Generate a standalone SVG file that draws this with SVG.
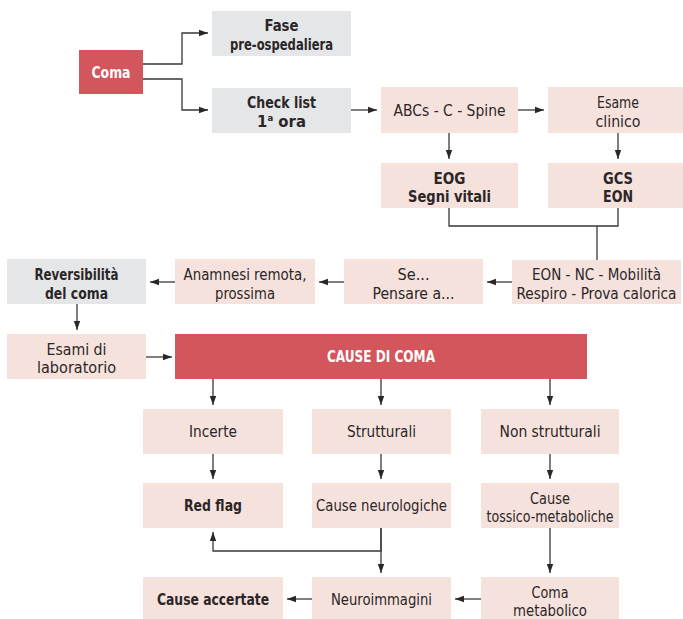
<svg xmlns="http://www.w3.org/2000/svg" width="683" height="619" viewBox="0 0 683 619">
  <style>
    text { font-family: "DejaVu Sans Condensed", "DejaVu Sans", "Liberation Sans", sans-serif; font-stretch: condensed; font-size: 16.5px; fill: #2b2627; text-anchor: middle; }
    .b { font-weight: bold; }
    .w { fill: #ffffff; font-weight: bold; }
    .pink { fill: #f6e2dd; }
    .gray { fill: #e5e6e7; }
    .red { fill: #d2565b; }
    .wire { fill: none; stroke: #3a3637; stroke-width: 1.3; }
    .arrow { marker-end: url(#head); }
  </style>
  <defs>
    <marker id="head" markerUnits="userSpaceOnUse" markerWidth="10" markerHeight="8" refX="9" refY="4" orient="auto">
      <path d="M0,0.8 L9,4 L0,7.2 Z" fill="#2b2627"/>
    </marker>
  </defs>

  <!-- connectors -->
  <g id="connectors">
    <path class="wire arrow" d="M143,64 H182 V33 H208"/>
    <path class="wire arrow" d="M143,79 H182 V110 H208"/>
    <path class="wire arrow" d="M351,110 H377"/>
    <path class="wire arrow" d="M518,110 H544"/>
    <path class="wire arrow" d="M449,133 V159"/>
    <path class="wire arrow" d="M618,133 V159"/>
    <path class="wire" d="M449,208 V226 H618 V208"/>
    <path class="wire" d="M597,226 V260"/>
    <path class="wire arrow" d="M512,282 H487"/>
    <path class="wire arrow" d="M344,282 H319"/>
    <path class="wire arrow" d="M175,282 H150"/>
    <path class="wire arrow" d="M77,304 V330"/>
    <path class="wire arrow" d="M146,357 H172"/>
    <path class="wire arrow" d="M213,379 V405"/>
    <path class="wire arrow" d="M381,379 V405"/>
    <path class="wire arrow" d="M550,379 V405"/>
    <path class="wire arrow" d="M213,454 V479"/>
    <path class="wire arrow" d="M381,454 V479"/>
    <path class="wire arrow" d="M550,454 V479"/>
    <path class="wire arrow" d="M381,528 V551 H213 V532"/>
    <path class="wire arrow" d="M381,528 V573"/>
    <path class="wire arrow" d="M550,528 V573"/>
    <path class="wire arrow" d="M481,599 H455"/>
    <path class="wire arrow" d="M312,599 H287"/>
  </g>

  <!-- nodes -->
  <g id="coma">
    <rect class="red" x="79" y="50" width="64" height="44"/>
    <text class="w" x="111" y="78" textLength="39" lengthAdjust="spacingAndGlyphs">Coma</text>
  </g>
  <g id="fase-pre-ospedaliera">
    <rect class="gray" x="212" y="11" width="139" height="45"/>
    <text class="b" x="281.5" y="31" textLength="34" lengthAdjust="spacingAndGlyphs">Fase</text>
    <text class="b" x="281.5" y="49.5" textLength="103" lengthAdjust="spacingAndGlyphs">pre-ospedaliera</text>
  </g>
  <g id="check-list">
    <rect class="gray" x="212" y="88" width="139" height="45"/>
    <text class="b" x="281.5" y="108" textLength="69" lengthAdjust="spacingAndGlyphs">Check list</text>
    <text class="b" x="281.5" y="127" font-size="15">1<tspan font-size="9.5" dy="-6.5">a</tspan><tspan dy="6.5"> ora</tspan></text>
  </g>
  <g id="abcs">
    <rect class="pink" x="381" y="87" width="137" height="46"/>
    <text x="449.5" y="116" textLength="112" lengthAdjust="spacingAndGlyphs">ABCs - C - Spine</text>
  </g>
  <g id="esame-clinico">
    <rect class="pink" x="548" y="87" width="135" height="46"/>
    <text x="618" y="108" textLength="42" lengthAdjust="spacingAndGlyphs">Esame</text>
    <text x="618" y="127" textLength="45" lengthAdjust="spacingAndGlyphs">clinico</text>
  </g>
  <g id="eog">
    <rect class="pink" x="381" y="163" width="137" height="45"/>
    <text class="b" x="449.5" y="183.5" textLength="32" lengthAdjust="spacingAndGlyphs">EOG</text>
    <text class="b" x="449.5" y="202" textLength="83" lengthAdjust="spacingAndGlyphs">Segni vitali</text>
  </g>
  <g id="gcs">
    <rect class="pink" x="548" y="163" width="135" height="45"/>
    <text class="b" x="618" y="183.5" textLength="30" lengthAdjust="spacingAndGlyphs">GCS</text>
    <text class="b" x="618" y="202" textLength="30" lengthAdjust="spacingAndGlyphs">EON</text>
  </g>
  <g id="reversibilita">
    <rect class="gray" x="7" y="259" width="139" height="45"/>
    <text class="b" x="76.5" y="280" textLength="84" lengthAdjust="spacingAndGlyphs">Reversibilità</text>
    <text class="b" x="76.5" y="298.5" textLength="63" lengthAdjust="spacingAndGlyphs">del coma</text>
  </g>
  <g id="anamnesi">
    <rect class="pink" x="175" y="259" width="140" height="45"/>
    <text x="245" y="280" textLength="123" lengthAdjust="spacingAndGlyphs">Anamnesi remota,</text>
    <text x="245" y="298.5" textLength="60" lengthAdjust="spacingAndGlyphs">prossima</text>
  </g>
  <g id="pensare">
    <rect class="pink" x="344" y="259" width="139" height="45"/>
    <text x="413.5" y="280" textLength="32" lengthAdjust="spacingAndGlyphs">Se...</text>
    <text x="413.5" y="298.5" textLength="82" lengthAdjust="spacingAndGlyphs">Pensare a...</text>
  </g>
  <g id="esame-neurologico">
    <rect class="pink" x="512" y="260" width="169" height="44"/>
    <text x="596.5" y="280" textLength="129" lengthAdjust="spacingAndGlyphs">EON - NC - Mobilità</text>
    <text x="596.5" y="298.5" textLength="160" lengthAdjust="spacingAndGlyphs">Respiro - Prova calorica</text>
  </g>
  <g id="esami-laboratorio">
    <rect class="pink" x="7" y="334" width="139" height="45"/>
    <text x="76.5" y="354.5" textLength="60" lengthAdjust="spacingAndGlyphs">Esami di</text>
    <text x="76.5" y="373" textLength="79" lengthAdjust="spacingAndGlyphs">laboratorio</text>
  </g>
  <g id="cause-di-coma">
    <rect class="red" x="175" y="334" width="412" height="45"/>
    <text class="w" x="381" y="362" textLength="108" lengthAdjust="spacingAndGlyphs">CAUSE DI COMA</text>
  </g>
  <g id="incerte">
    <rect class="pink" x="143" y="409" width="140" height="45"/>
    <text x="213" y="437" textLength="48" lengthAdjust="spacingAndGlyphs">Incerte</text>
  </g>
  <g id="strutturali">
    <rect class="pink" x="312" y="409" width="139" height="45"/>
    <text x="381.5" y="437" textLength="69" lengthAdjust="spacingAndGlyphs">Strutturali</text>
  </g>
  <g id="non-strutturali">
    <rect class="pink" x="481" y="409" width="138" height="45"/>
    <text x="550" y="437" textLength="101" lengthAdjust="spacingAndGlyphs">Non strutturali</text>
  </g>
  <g id="red-flag">
    <rect class="pink" x="143" y="483" width="140" height="45"/>
    <text class="b" x="213" y="511" textLength="58" lengthAdjust="spacingAndGlyphs">Red flag</text>
  </g>
  <g id="cause-neurologiche">
    <rect class="pink" x="312" y="483" width="139" height="45"/>
    <text x="381.5" y="511" textLength="131" lengthAdjust="spacingAndGlyphs">Cause neurologiche</text>
  </g>
  <g id="cause-tossico-metaboliche">
    <rect class="pink" x="481" y="483" width="138" height="45"/>
    <text x="550" y="503.5" textLength="40" lengthAdjust="spacingAndGlyphs">Cause</text>
    <text x="550" y="522" textLength="127" lengthAdjust="spacingAndGlyphs">tossico-metaboliche</text>
  </g>
  <g id="cause-accertate">
    <rect class="pink" x="143" y="577" width="140" height="45"/>
    <text class="b" x="213" y="605" textLength="112" lengthAdjust="spacingAndGlyphs">Cause accertate</text>
  </g>
  <g id="neuroimmagini">
    <rect class="pink" x="312" y="577" width="139" height="45"/>
    <text x="381.5" y="605" textLength="101" lengthAdjust="spacingAndGlyphs">Neuroimmagini</text>
  </g>
  <g id="coma-metabolico">
    <rect class="pink" x="481" y="577" width="138" height="45"/>
    <text x="550" y="597.5" textLength="37" lengthAdjust="spacingAndGlyphs">Coma</text>
    <text x="550" y="616" textLength="74" lengthAdjust="spacingAndGlyphs">metabolico</text>
  </g>
</svg>
